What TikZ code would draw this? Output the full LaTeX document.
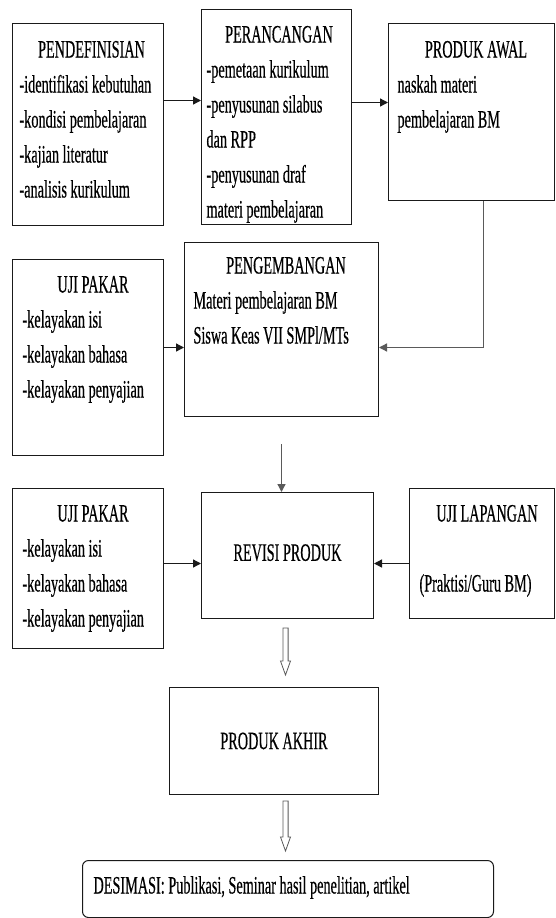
\documentclass[tikz,border=0pt]{standalone}
\usepackage{fontspec}
\setmainfont{Liberation Serif}[FakeStretch=0.57, FakeBold=0.4]
\usetikzlibrary{arrows.meta, positioning, calc}
\definecolor{LineDark}{HTML}{1A1A1A}
\definecolor{LineGray}{HTML}{5A5A5A}

\newcommand{\judul}[1]{\hspace*{\fill}#1\hspace*{\fill}\hspace*{\leftskip}}
\newcommand{\panahblok}[2]{%
  \draw[blok] ($(#1)+(-2.6,0)$) -- ($(#2)+(-2.6,14)$) -- ($(#2)+(-5,14)$) -- (#2)
    -- ($(#2)+(5,14)$) -- ($(#2)+(2.6,14)$) -- ($(#1)+(2.6,0)$) -- cycle;}

\begin{document}
\begin{tikzpicture}[
    x=1pt, y=1pt,
    font=\fontsize{25}{35}\selectfont,
    kotak/.style n args={4}{draw=LineDark, line width=1pt, inner sep=0pt, anchor=north west,
      execute at begin node={\begin{minipage}[t][#2pt][t]{#1pt}\raggedright\leftskip=#4pt\relax\rule{0pt}{#3pt}},
      execute at end node={\end{minipage}}},
    kotakpusat/.style={draw=LineDark, line width=1pt, inner sep=0pt, anchor=north west, align=center},
    panah/.style={-{Triangle[length=8pt, width=8pt]}, line width=1.3pt, LineDark},
    panahabu/.style={panah, LineGray},
    blok/.style={draw=LineGray, line width=0.8pt, fill=white}
  ]
  \useasboundingbox (0,0) rectangle (555,-918);

  % Nodes
  \node[kotak={151}{202}{34}{7}] (definisi) at (12,-23)
    {\judul{PENDEFINISIAN}\\-identifikasi kebutuhan\\-kondisi pembelajaran\\-kajian literatur\\-analisis kurikulum};
  \node[kotak={150}{215}{33}{5}] (rancang) at (201,-9)
    {\judul{PERANCANGAN}\\-pemetaan kurikulum\\-penyusunan silabus\\dan RPP\\-penyusunan draf\\materi pembelajaran};
  \node[kotak={166}{177}{34}{9}] (awal) at (388,-23)
    {\judul{PRODUK AWAL}\\naskah materi\\pembelajaran BM};
  \node[kotak={151}{196}{33}{10}] (pakar1) at (12,-259)
    {\judul{UJI PAKAR}\\-kelayakan isi\\-kelayakan bahasa\\-kelayakan penyajian};
  \node[kotak={194}{174}{31}{9}] (kembang) at (184,-242)
    {\judul{PENGEMBANGAN}\\Materi pembelajaran BM\\Siswa Keas VII SMPl/MTs};
  \node[kotak={151}{160}{33}{10}] (pakar2) at (12,-488)
    {\judul{UJI PAKAR}\\-kelayakan isi\\-kelayakan bahasa\\-kelayakan penyajian};
  \node[kotakpusat, minimum width=172pt, minimum height=126pt] (revisi) at (201,-492) {\raisebox{6pt}{REVISI PRODUK}};
  \node[kotak={145}{130}{33}{10}] (lapangan) at (409,-488)
    {\judul{UJI LAPANGAN}\\[35pt](Praktisi/Guru BM)};
  \node[kotakpusat, minimum width=209pt, minimum height=107pt] (akhir) at (169,-687) {\raisebox{-5pt}{PRODUK AKHIR}};
  \node[kotak={411}{57}{33}{11}, rounded corners=6pt] (desimasi) at (82,-860)
    {DESIMASI: Publikasi, Seminar hasil penelitian, artikel};

  % Connections
  \draw[panah] ($(definisi.east)+(0,24)$) -- ($(definisi.east -| rancang.west)+(0,24)$);
  \draw[panah] ($(awal.west -| rancang.east)+(0,9.5)$) -- ($(awal.west)+(0,9.5)$);
  \draw[panahabu] ($(awal.south)+(12,0)$) |- ($(kembang.east)+(0,-18)$);
  \draw[panah] ($(pakar1.east)+(0,10)$) -- ($(pakar1.east -| kembang.west)+(0,10)$);
  \draw[panahabu, shorten <=27pt] (kembang.south) -- (kembang.south |- revisi.north);
  \draw[panah] ($(pakar2.east)+(0,5)$) -- ($(pakar2.east -| revisi.west)+(0,5)$);
  \draw[panah] ($(lapangan.west)+(0,-10)$) -- ($(lapangan.west -| revisi.east)+(0,-10)$);

  % Hollow arrows
  \coordinate (b1) at ($(revisi.south)+(-2,-9)$);
  \coordinate (b2) at ($(b1 |- akhir.north)+(0,12)$);
  \coordinate (b3) at ($(b1 |- akhir.south)+(0,-6)$);
  \coordinate (b4) at ($(b1 |- desimasi.north)+(0,9)$);
  \panahblok{b1}{b2}
  \panahblok{b3}{b4}
\end{tikzpicture}
\end{document}
